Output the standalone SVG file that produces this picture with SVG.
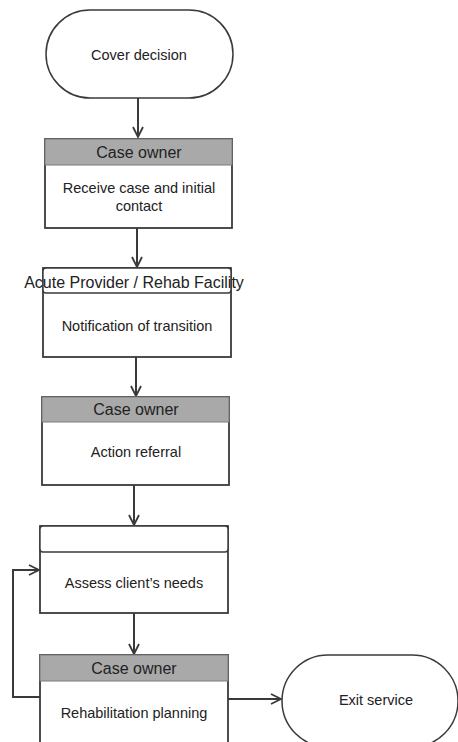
<svg xmlns="http://www.w3.org/2000/svg" width="458" height="742" viewBox="0 0 458 742">
<style>
  .bg{fill:#ffffff}
  .term{fill:#ffffff;stroke:#3a3a3a;stroke-width:1.5}
  .box{fill:#ffffff;stroke:#3a3a3a;stroke-width:1.8}
  .hdr{fill:#a9a9a9;stroke:#7a7a7a;stroke-width:1}
  .hdrw{fill:#ffffff;stroke:#3a3a3a;stroke-width:1.4}
  .t{font-family:"Liberation Sans",Arial,sans-serif;font-size:14.5px;fill:#222222;text-anchor:middle}
  .h{font-family:"Liberation Sans",Arial,sans-serif;font-size:16px;fill:#222222;text-anchor:middle}
  .c{fill:none;stroke:#3a3a3a;stroke-width:2}
</style>
<defs>
  <marker id="arr" viewBox="0 0 12 12" refX="11" refY="6" markerWidth="12" markerHeight="12" markerUnits="userSpaceOnUse" orient="auto">
    <path d="M1,1 L11,6 L1,11" fill="none" stroke="#3a3a3a" stroke-width="1.8"/>
  </marker>
</defs>
<rect class="bg" x="0" y="0" width="458" height="742"/>

<g id="connectors">
  <path class="c" d="M138,98 L138,137" marker-end="url(#arr)"/>
  <path class="c" d="M137,228 L137,267" marker-end="url(#arr)"/>
  <path class="c" d="M136,357 L136,396" marker-end="url(#arr)"/>
  <path class="c" d="M134,485 L134,525" marker-end="url(#arr)"/>
  <path class="c" d="M134,613 L134,654" marker-end="url(#arr)"/>
  <path class="c" d="M40,697 L13,697 L13,570 L39,570" marker-end="url(#arr)"/>
  <path class="c" d="M228,699 L281,699" marker-end="url(#arr)"/>
</g>

<g id="cover-decision">
  <rect class="term" x="46" y="10" width="187" height="88" rx="44" ry="44"/>
  <text class="t" x="139" y="60">Cover decision</text>
</g>

<g id="receive-case">
  <rect class="box" x="45" y="139" width="187" height="89"/>
  <rect class="hdr" x="45" y="139" width="187" height="26"/>
  <text class="h" x="139" y="158">Case owner</text>
  <text class="t" x="139" y="193">Receive case and initial</text>
  <text class="t" x="139" y="211">contact</text>
</g>

<g id="notification">
  <rect class="box" x="43" y="268" width="188" height="89"/>
  <rect class="hdrw" x="43" y="268" width="188" height="25" rx="3" ry="3"/>
  <text class="h" x="134" y="288">Acute Provider / Rehab Facility</text>
  <text class="t" x="137" y="331">Notification of transition</text>
</g>

<g id="action-referral">
  <rect class="box" x="42" y="397" width="187" height="88"/>
  <rect class="hdr" x="42" y="397" width="187" height="25"/>
  <text class="h" x="136" y="415">Case owner</text>
  <text class="t" x="136" y="457">Action referral</text>
</g>

<g id="assess-needs">
  <rect class="box" x="40" y="526" width="188" height="87"/>
  <rect class="hdrw" x="40" y="526" width="188" height="26" rx="3" ry="3"/>
  <text class="t" x="134" y="588">Assess client’s needs</text>
</g>

<g id="rehab-planning">
  <rect class="box" x="40" y="655" width="188" height="100"/>
  <rect class="hdr" x="40" y="655" width="188" height="26"/>
  <text class="h" x="134" y="674">Case owner</text>
  <text class="t" x="134" y="718">Rehabilitation planning</text>
</g>

<g id="exit-service">
  <rect class="term" x="282" y="655" width="176" height="92" rx="46" ry="46"/>
  <text class="t" x="376" y="705">Exit service</text>
</g>
</svg>
